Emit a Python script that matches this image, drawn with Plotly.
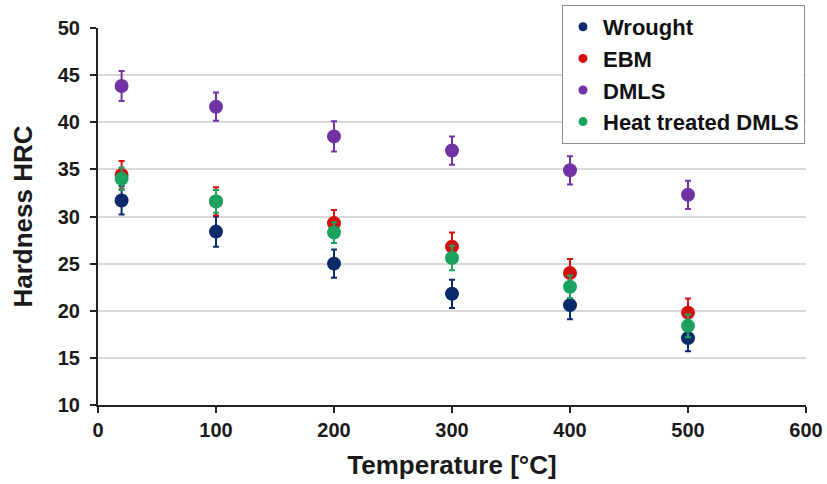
import plotly.graph_objects as go

temperature = [20, 100, 200, 300, 400, 500]
wrought = [31.7, 28.4, 25.0, 21.8, 20.6, 17.1]
wrought_err = [1.5, 1.6, 1.5, 1.5, 1.5, 1.4]
ebm = [34.4, 31.6, 29.3, 26.8, 24.0, 19.8]
ebm_err = [1.5, 1.5, 1.4, 1.5, 1.5, 1.5]
dmls = [43.85, 41.65, 38.5, 37.0, 34.9, 32.3]
dmls_err = [1.6, 1.5, 1.6, 1.5, 1.5, 1.5]
ht_dmls = [34.0, 31.6, 28.3, 25.6, 22.55, 18.4]
ht_err = [1.2, 1.2, 1.1, 1.3, 1.2, 1.2]

series = [
    ("Wrought", wrought, wrought_err, "#0b2a6b"),
    ("EBM", ebm, ebm_err, "#d40f0f"),
    ("DMLS", dmls, dmls_err, "#7133a3"),
    ("Heat treated DMLS", ht_dmls, ht_err, "#1aa35e"),
]

FONT = "Liberation Sans, Arial, sans-serif"
fig = go.Figure()
for name, vals, errs, col in series:
    fig.add_trace(go.Scatter(
        x=temperature, y=vals, name=name, mode="markers", showlegend=False,
        marker=dict(size=14, color=col),
        error_y=dict(type="data", array=errs, visible=True,
                     color=col, thickness=2, width=3),
    ))
# legend entries with small dots (as in the reference legend)
for name, vals, errs, col in series:
    fig.add_trace(go.Scatter(
        x=[None], y=[None], name=name, mode="markers",
        marker=dict(size=9, color=col),
    ))

fig.update_layout(
    width=827, height=484,
    margin=dict(l=98, r=21, t=28, b=79, autoexpand=False),
    paper_bgcolor="white", plot_bgcolor="white",
    font=dict(family=FONT, size=20, color="#1a1a1a", weight="bold"),
    legend=dict(
        xref="container", yref="container",
        x=562 / 827, y=1 - 5 / 484, xanchor="left", yanchor="top",
        bgcolor="white", bordercolor="#8c8c8c", borderwidth=1,
        font=dict(size=22, family=FONT, color="#111111", weight="bold"),
        itemsizing="trace", tracegroupgap=0,
    ),
    xaxis=dict(
        range=[0, 600], dtick=100, showgrid=False, automargin=False,
        showline=True, linecolor="#222222", linewidth=2,
        ticks="outside", ticklen=6, tickwidth=2, tickcolor="#222222",
        title=dict(text="Temperature [°C]", font=dict(size=26, family=FONT, weight="bold"), standoff=16),
        zeroline=False,
    ),
    yaxis=dict(
        range=[10, 50], dtick=5, showgrid=True, gridcolor="#d9d9d9", gridwidth=2,
        automargin=False, ticklabelstandoff=6,
        showline=True, linecolor="#222222", linewidth=2,
        ticks="outside", ticklen=6, tickwidth=2, tickcolor="#222222",
        title=dict(text="Hardness HRC", font=dict(size=26, family=FONT, weight="bold"), standoff=18),
        zeroline=False,
    ),
)

fig.write_html("out.html", config={"displayModeBar": False},
               post_script="document.body.style.margin='0';")
